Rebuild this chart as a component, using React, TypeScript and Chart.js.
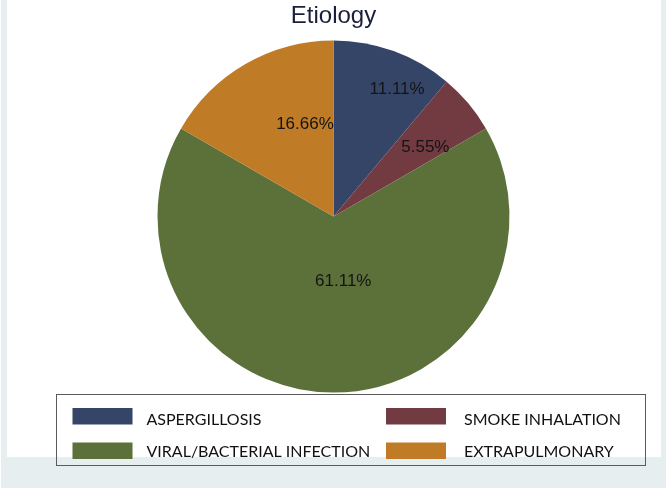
import React, { useEffect, useRef } from "react";
import { Chart, registerables } from "chart.js";

Chart.register(...registerables);

const categories = ["ASPERGILLOSIS", "SMOKE INHALATION", "VIRAL/BACTERIAL INFECTION", "EXTRAPULMONARY"];
const sliceShares = [11.11, 5.55, 66.67, 16.67];
const sliceLabels = ["11.11%", "5.55%", "61.11%", "16.66%"];
const sliceColors = ["#354568", "#723a41", "#5c7139", "#c07b27"];
const chartTitle = "Etiology";

const framePlugin = {
  id: "frame",
  beforeDraw(chart: any) {
    const { ctx, width, height } = chart;
    ctx.save();
    ctx.fillStyle = "#ffffff";
    ctx.fillRect(0, 0, width, height);
    ctx.fillStyle = "#e7eef0";
    ctx.fillRect(1, 0, 6, 457);
    ctx.fillRect(661, 0, 5, 457);
    ctx.fillRect(1, 457, 665, height - 457);
    ctx.restore();
  },
};

const sliceLabelPlugin = {
  id: "sliceLabels",
  afterDatasetsDraw(chart: any, _args: any, opts: any) {
    const { ctx } = chart;
    const meta = chart.getDatasetMeta(0);
    const labels = chart.data.datasets[0].sliceLabels as string[];
    ctx.save();
    ctx.font = opts.font;
    ctx.fillStyle = opts.color;
    ctx.textAlign = "center";
    ctx.textBaseline = "middle";
    meta.data.forEach((arc: any, i: number) => {
      const { x, y, startAngle, endAngle, outerRadius } = arc.getProps(
        ["x", "y", "startAngle", "endAngle", "outerRadius"],
        true
      );
      const p = opts.placement[i];
      const a = (startAngle + endAngle) / 2 + (p.shift * Math.PI) / 180;
      const r = outerRadius * p.frac;
      ctx.fillText(labels[i], x + Math.cos(a) * r, y + Math.sin(a) * r);
    });
    ctx.restore();
  },
};

const gridLegendPlugin = {
  id: "gridLegend",
  afterDraw(chart: any, _args: any, opts: any) {
    const { ctx } = chart;
    const ds = chart.data.datasets[0];
    const names = chart.data.labels as string[];
    const b = opts.box;
    ctx.save();
    ctx.strokeStyle = "#5a5a5a";
    ctx.lineWidth = 1;
    ctx.strokeRect(b.x, b.y, b.w, b.h);
    ctx.font = opts.font;
    ctx.fillStyle = opts.color;
    ctx.textBaseline = "middle";
    ctx.textAlign = "left";
    names.forEach((name, i) => {
      const col = i % 2;
      const row = Math.floor(i / 2);
      const sx = opts.swatchX[col];
      const sy = opts.swatchY[row];
      ctx.fillStyle = ds.backgroundColor[i];
      ctx.fillRect(sx, sy, opts.swatchW, opts.swatchH);
      ctx.fillStyle = opts.color;
      ctx.fillText(name, opts.textX[col], opts.textY[row]);
    });
    ctx.restore();
  },
};

export default function App() {
  const ref = useRef<HTMLCanvasElement | null>(null);

  useEffect(() => {
    if (!ref.current) return;
    const chart = new Chart(ref.current, {
      type: "pie",
      data: {
        labels: categories,
        datasets: [
          {
            data: sliceShares,
            backgroundColor: sliceColors,
            borderWidth: 0,
            hoverOffset: 0,
            radius: 176,
            sliceLabels: sliceLabels,
          } as any,
        ],
      },
      options: {
        responsive: false,
        animation: false,
        events: [],
        layout: { padding: { left: 0, right: 2, top: 1.6, bottom: 95.5 } },
        plugins: {
          legend: { display: false },
          tooltip: { enabled: false },
          title: {
            display: true,
            text: chartTitle,
            color: "#1c1f3a",
            font: { family: "'Liberation Sans', Arial, sans-serif", size: 24, weight: "normal" as any, lineHeight: 1.2 },
            padding: { top: 0, bottom: 10.1 },
          },
          sliceLabels: {
            font: "17px 'Liberation Sans', Arial, sans-serif",
            color: "#141414",
            placement: [
              { shift: 6.6, frac: 0.807 },
              { shift: 3.2, frac: 0.652 },
              { shift: -8.5, frac: 0.374 },
              { shift: 12.8, frac: 0.548 },
            ],
          },
          gridLegend: {
            box: { x: 56.5, y: 394.5, w: 589, h: 71 },
            font: "16px Lato, 'Noto Sans', sans-serif",
            color: "#111111",
            swatchX: [72.5, 386],
            swatchY: [408, 442.5],
            swatchW: 60,
            swatchH: 16.5,
            textX: [146.5, 464],
            textY: [419.5, 451.5],
          },
        } as any,
      },
      plugins: [framePlugin, sliceLabelPlugin, gridLegendPlugin],
    });
    return () => chart.destroy();
  }, []);

  return (
    <div style={{ position: "absolute", left: 0, top: 0, width: 669, height: 488 }}>
      <canvas ref={ref} width={669} height={488} />
    </div>
  );
}
